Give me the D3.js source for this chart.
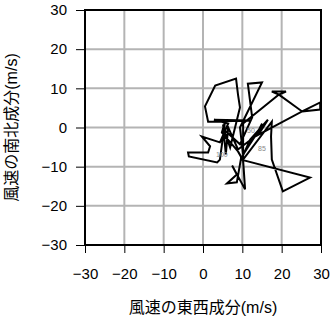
<!DOCTYPE html>
<html><head><meta charset="utf-8">
<script src="https://cdn.jsdelivr.net/npm/d3@7"></script>
<style>body{margin:0;background:#fff}svg{display:block}</style>
</head><body>
<script>
const uWind = [9.7,8.6,6.1,8.6,7.4,10.7,10.2,8.9,4.8,5.6,4.3,3.6,-3.6,-3.8,1.3,1.8,-0.3,4.3,6.4,2.8,12.0,1.3,0.5,3.1,8.4,8.9,9.4,8.4,6.9,5.3,9.4,12.5,11.4,15.0,9.4,10.2,14.0,15.0,14.0,16.5,12.0,9.7,27.2,20.3,17.5,17.3,17.5,10.2,10.2,19.3,17.5,21.1,19.3,25.2,29.8,29.8,25.2,13.2,8.9,6.4,5.8,5.1];
const vWind = [-7.7,-14.0,-14.3,-12.0,-9.7,-15.8,-8.4,-6.1,-1.3,1.5,-8.2,-8.9,-7.4,-6.4,-6.4,-4.8,-2.3,-3.8,1.0,2.0,1.8,1.5,5.4,10.7,12.5,8.4,5.1,1.0,-5.1,-0.5,-4.3,2.6,11.2,11.5,0.0,-6.9,-1.0,1.0,-2.0,2.0,-3.1,-8.2,-12.8,-16.3,-8.2,-2.3,1.5,-8.2,1.0,8.4,9.2,9.2,8.4,4.1,6.4,4.6,4.1,-2.3,-5.6,0.0,-6.9,0.8];
const levelLabels = ["100","85","50"];
const labelU = [4.8,15.0,12.2];
const labelV = [-6.9,-5.4,-0.8];
const ticks = [-30,-20,-10,0,10,20,30];
const xTitle = "風速の東西成分(m/s)";
const yTitle = "風速の南北成分(m/s)";

const W=331,H=318;
const L=85,R=321,T=10,B=245;
const svg=d3.select("body").append("svg").attr("width",W).attr("height",H);
const x=d3.scaleLinear().domain([-30,30]).range([L,R]);
const y=d3.scaleLinear().domain([-30,30]).range([B,T]);
const font='"Liberation Sans", Arial, Helvetica, sans-serif';
const cjk='"Liberation Sans", "Noto Sans CJK JP", sans-serif';

// grid
svg.append("g").selectAll("line").data(ticks.slice(1,-1)).join("line")
 .attr("x1",d=>x(d)).attr("x2",d=>x(d)).attr("y1",T).attr("y2",B)
 .attr("stroke","#b4b4b4").attr("stroke-width",2);
svg.append("g").selectAll("line").data(ticks.slice(1,-1)).join("line")
 .attr("y1",d=>y(d)).attr("y2",d=>y(d)).attr("x1",L).attr("x2",R)
 .attr("stroke","#b4b4b4").attr("stroke-width",2);

// axes
const fmt=d=>d<0?"\u2212"+Math.abs(d):d;
const xa=svg.append("g").attr("transform",`translate(0,${B})`)
 .call(d3.axisBottom(x).tickValues(ticks).tickSize(8).tickPadding(15).tickFormat(fmt));
const ya=svg.append("g").attr("transform",`translate(${L},0)`)
 .call(d3.axisLeft(y).tickValues(ticks).tickSize(9).tickPadding(9).tickFormat(fmt));
[xa,ya].forEach(a=>{a.select(".domain").remove();
 a.selectAll("text").attr("font-family",font).attr("font-size",15).attr("fill","#000");
 a.selectAll(".tick line").attr("stroke","#000").attr("stroke-width",1);});

// data
svg.append("clipPath").attr("id","c").append("rect").attr("x",L).attr("y",T).attr("width",R-L).attr("height",B-T);
const pts=uWind.map((u,i)=>[u,vWind[i]]);
svg.append("path").attr("clip-path","url(#c)")
 .attr("d",d3.line().x(d=>x(d[0])).y(d=>y(d[1]))(pts))
 .attr("fill","none").attr("stroke","#000").attr("stroke-width",2).attr("stroke-linejoin","miter");
svg.append("g").selectAll("text").data(levelLabels).join("text")
 .attr("x",(d,i)=>x(labelU[i])).attr("y",(d,i)=>y(labelV[i]))
 .attr("text-anchor","middle").attr("dominant-baseline","central")
 .attr("font-family",font).attr("font-size",7).attr("fill","#888").text(d=>d);

// frame
svg.append("rect").attr("x",L).attr("y",T).attr("width",R-L).attr("height",B-T)
 .attr("fill","none").attr("stroke","#000").attr("stroke-width",2);

// titles
svg.append("text").attr("x",(L+R)/2).attr("y",307).attr("text-anchor","middle").attr("dominant-baseline","central")
 .attr("font-family",cjk).attr("font-size",16).text(xTitle);
svg.append("text").attr("transform",`translate(11,${(T+B)/2}) rotate(-90)`).attr("text-anchor","middle").attr("dominant-baseline","central")
 .attr("font-family",cjk).attr("font-size",16).text(yTitle);
</script>
</body></html>
